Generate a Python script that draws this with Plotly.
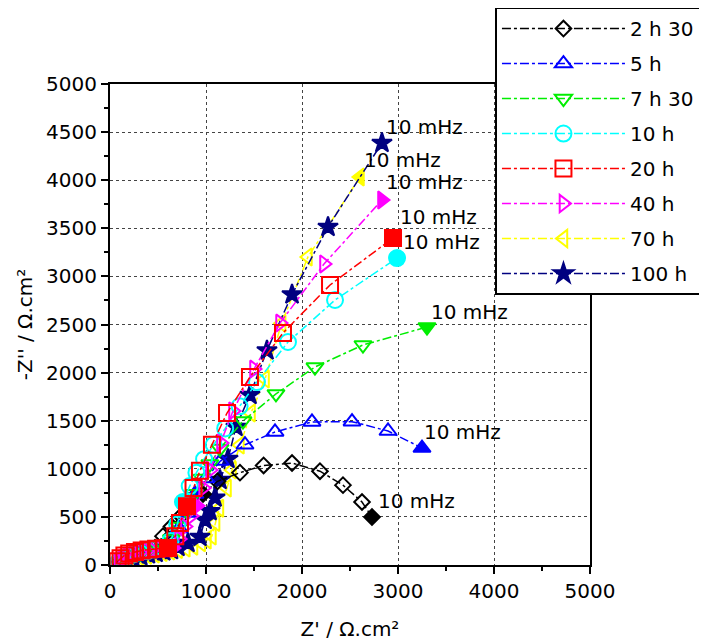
import plotly.graph_objects as go

# ---------------- data ----------------
names = ["2 h 30", "5 h", "7 h 30", "10 h", "20 h", "40 h", "70 h", "100 h"]
colors = ["#000000", "#0000FF", "#00EE00", "#00FFFF", "#FF0000", "#FF00FF", "#FFFF00", "#000080"]
symbols = ["diamond", "triangle-up", "triangle-down", "circle", "square", "triangle-right", "triangle-left", "star"]

x_2h30 = [90, 130, 180, 240, 310, 390, 470, 552, 640, 740, 850, 969, 1120, 1354, 1600, 1896, 2187, 2427, 2625, 2729]
y_2h30 = [30, 60, 85, 105, 125, 145, 180, 300, 400, 510, 620, 738, 870, 960, 1035, 1060, 975, 830, 655, 499]
f_2h30 = [11, 19]

x_5h = [100, 140, 190, 250, 320, 400, 480, 560, 640, 720, 800, 885, 1000, 1150, 1406, 1719, 2104, 2521, 2896, 3250]
y_5h = [30, 60, 85, 105, 125, 140, 160, 190, 260, 380, 540, 738, 900, 1080, 1250, 1383, 1487, 1490, 1393, 1216]
f_5h = [11, 19]

x_7h30 = [100, 140, 190, 250, 320, 400, 480, 560, 640, 720, 800, 880, 960, 1040, 1146, 1385, 1729, 2135, 2635, 3302]
y_7h30 = [30, 60, 85, 105, 125, 140, 160, 190, 270, 400, 560, 740, 900, 1050, 1210, 1497, 1778, 2058, 2287, 2474]
f_7h30 = [19]

x_10h = [90, 130, 180, 240, 310, 390, 470, 550, 630, 700, 760, 830, 900, 980, 1080, 1200, 1350, 1531, 1854, 2344, 2990]
y_10h = [35, 65, 90, 110, 130, 145, 160, 180, 250, 420, 655, 820, 960, 1100, 1250, 1420, 1650, 1902, 2318, 2755, 3191]
f_10h = [10, 20]

x_20h = [80, 110, 150, 200, 260, 330, 400, 480, 560, 604, 680, 729, 802, 870, 937, 1062, 1219, 1458, 1802, 2292, 2948]
y_20h = [40, 70, 100, 120, 135, 150, 160, 170, 175, 177, 300, 437, 610, 800, 980, 1250, 1580, 1954, 2412, 2911, 3399]
f_20h = [9, 12, 20]

x_40h = [90, 130, 180, 240, 310, 380, 437, 520, 600, 656, 720, 780, 845, 906, 970, 1042, 1156, 1281, 1500, 1771, 2229, 2833]
y_40h = [35, 65, 90, 110, 130, 145, 156, 165, 172, 177, 270, 400, 510, 615, 800, 987, 1268, 1601, 2037, 2515, 3129, 3794]
f_40h = [9, 13, 21]

x_70h = [100, 160, 230, 310, 390, 470, 550, 630, 710, 790, 870, 950, 1010, 1062, 1100, 1140, 1219, 1271, 1354, 1469, 1615, 1788, 2062, 2604]
y_70h = [25, 45, 65, 85, 100, 115, 130, 145, 160, 175, 195, 230, 260, 300, 440, 590, 800, 987, 1247, 1580, 1933, 2512, 3202, 4033]
f_70h = [23]

x_100h = [110, 170, 240, 320, 400, 480, 560, 640, 708, 812, 937, 990, 1042, 1094, 1146, 1229, 1312, 1458, 1635, 1896, 2271, 2833]
y_100h = [30, 50, 70, 90, 110, 125, 140, 155, 187, 229, 291, 468, 560, 700, 884, 1102, 1434, 1767, 2230, 2812, 3514, 4387]
f_100h = list(range(22))

xs = [x_2h30, x_5h, x_7h30, x_10h, x_20h, x_40h, x_70h, x_100h]
ys = [y_2h30, y_5h, y_7h30, y_10h, y_20h, y_40h, y_70h, y_100h]
fills = [f_2h30, f_5h, f_7h30, f_10h, f_20h, f_40h, f_70h, f_100h]

label_text = "10 mHz"
label_x = [3188, 3677, 3740, 3448, 3427, 3271, 3042, 3281]
label_y = [665, 1383, 2630, 3360, 3615, 3981, 4210, 4553]

# --------------- figure ---------------
FONT = "DejaVu Sans"
fig = go.Figure()
sizes = [12, 15, 15, 16, 16, 15, 15, 15]
draw_order = [6, 7, 0, 1, 2, 3, 5, 4]
for i in draw_order:
    n = len(xs[i])
    sym = [symbols[i] if k in fills[i] else symbols[i] + "-open" for k in range(n)]
    fig.add_trace(go.Scatter(
        x=xs[i], y=ys[i], name=names[i], mode="lines+markers",
        legendrank=i + 1, legendgroup=names[i],
        line=dict(color=colors[i], width=1.5, dash="dashdot"),
        marker=dict(symbol=sym, size=sizes[i], color=colors[i],
                    line=dict(color=colors[i], width=2)),
    ))

for lx, ly in zip(label_x, label_y):
    fig.add_annotation(x=lx, y=ly, text=label_text, showarrow=False,
                       font=dict(family=FONT, size=20, color="black"),
                       xanchor="center", yanchor="middle")

axis_common = dict(
    range=[0, 5000], showline=True, linewidth=2, linecolor="black", mirror=True,
    ticks="outside", ticklen=7, tickwidth=2, tickcolor="black",
    showgrid=True, gridcolor="#444444", griddash="dot", gridwidth=1,
    zeroline=False, automargin=False, tickfont=dict(family=FONT, size=20, color="black"),
)
fig.update_xaxes(**axis_common, dtick=1000,
                 minor=dict(dtick=500, ticks="outside", ticklen=4, tickwidth=2, tickcolor="black", showgrid=False),
                 title=dict(text="Z' / Ω.cm²", font=dict(family=FONT, size=20, color="black"), standoff=20))
fig.update_yaxes(**axis_common, dtick=500,
                 minor=dict(dtick=250, ticks="outside", ticklen=4, tickwidth=2, tickcolor="black", showgrid=False),
                 title=dict(text="-Z'' / Ω.cm²", font=dict(family=FONT, size=20, color="black"), standoff=8))

fig.update_layout(
    width=707, height=644,
    margin=dict(l=102, r=125, t=76, b=87, autoexpand=False),
    plot_bgcolor="white", paper_bgcolor="white",
    font=dict(family=FONT, size=20, color="black"),
    legend=dict(x=0.802, y=1.16, xanchor="left", yanchor="top",
                bgcolor="white", bordercolor="black", borderwidth=2,
                font=dict(family=FONT, size=20, color="black"),
                tracegroupgap=6, itemwidth=123, traceorder="grouped"),
)

fig.write_html("out.html")
